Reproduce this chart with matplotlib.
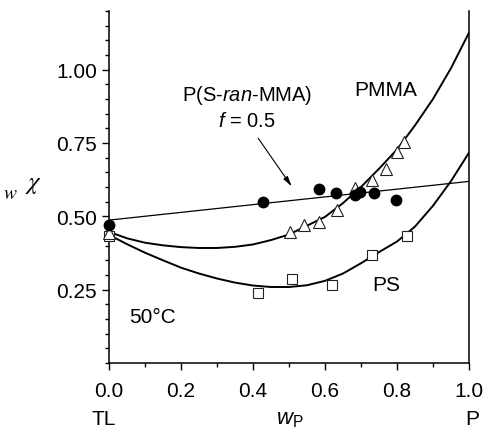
# chi parameter vs. weight fraction of polymer, 50 C
import numpy as np
import matplotlib
matplotlib.use('Agg')
import matplotlib.pyplot as plt
from matplotlib.ticker import MultipleLocator, FixedLocator, FormatStrFormatter

plt.rcParams['font.family'] = ['Liberation Sans', 'DejaVu Sans']
plt.rcParams['mathtext.fontset'] = 'custom'
plt.rcParams['mathtext.rm'] = 'Liberation Sans'
plt.rcParams['mathtext.it'] = 'Liberation Sans:italic'

# copolymer P(S-ran-MMA), filled circles
cop_w = [0.0, 0.429, 0.583, 0.631, 0.684, 0.698, 0.736, 0.798]
cop_chi = [0.470, 0.548, 0.593, 0.580, 0.574, 0.584, 0.581, 0.557]
# straight line through copolymer data
cop_line_w = [0.0, 1.0]
cop_line_chi = [0.487, 0.619]

# PMMA, open triangles
pmma_w = [0.0, 0.503, 0.543, 0.584, 0.634, 0.683, 0.731, 0.769, 0.799, 0.820]
pmma_chi = [0.444, 0.448, 0.470, 0.482, 0.523, 0.595, 0.623, 0.663, 0.718, 0.753]

# PS, open squares
ps_w = [0.0, 0.413, 0.508, 0.619, 0.730, 0.828]
ps_chi = [0.433, 0.239, 0.286, 0.267, 0.367, 0.434]

# fitted curves
curve_w = [0.0, 0.05, 0.1, 0.15, 0.2, 0.25, 0.3, 0.35, 0.4, 0.45, 0.5,
           0.55, 0.6, 0.65, 0.7, 0.75, 0.8, 0.85, 0.9, 0.95, 1.0]
pmma_fit = [0.447, 0.425, 0.410, 0.401, 0.395, 0.392, 0.392, 0.396, 0.404, 0.419, 0.438,
            0.468, 0.498, 0.545, 0.600, 0.662, 0.728, 0.810, 0.900, 1.005, 1.126]
ps_fit = [0.437, 0.405, 0.376, 0.350, 0.325, 0.305, 0.288, 0.274, 0.264, 0.259, 0.259,
          0.265, 0.280, 0.305, 0.340, 0.378, 0.414, 0.465, 0.536, 0.620, 0.717]

fig = plt.figure(figsize=(4.85, 4.31), dpi=100)
ax = fig.add_axes([0.2247, 0.1555, 0.7423, 0.8167])

ax.plot(curve_w, pmma_fit, color='black', lw=1.4, zorder=2)
ax.plot(curve_w, ps_fit, color='black', lw=1.4, zorder=2)
ax.plot(cop_line_w, cop_line_chi, color='black', lw=0.9, zorder=2)

ax.plot(ps_w, ps_chi, 's', ms=6.5, mfc='white', mec='#222222', mew=0.8, clip_on=False, zorder=3)
ax.plot(pmma_w, pmma_chi, '^', ms=8.5, mfc='white', mec='#222222', mew=0.8, clip_on=False, zorder=4)
ax.plot(cop_w, cop_chi, 'o', ms=7.5, mfc='black', mec='black', clip_on=False, zorder=5)

ax.set_xlim(0, 1.0)
ax.set_ylim(0, 1.2)
ax.xaxis.set_major_locator(MultipleLocator(0.2))
ax.xaxis.set_minor_locator(MultipleLocator(0.1))
ax.xaxis.set_major_formatter(FormatStrFormatter('%.1f'))
ax.yaxis.set_major_locator(FixedLocator([0.25, 0.5, 0.75, 1.0]))
ax.yaxis.set_minor_locator(MultipleLocator(0.05))
ax.yaxis.set_major_formatter(FormatStrFormatter('%.2f'))

ax.spines['top'].set_visible(False)
for s in ['left', 'bottom', 'right']:
    ax.spines[s].set_linewidth(1.1)
ax.tick_params(which='both', direction='out', width=1.0, top=False, right=False, labelsize=15)
ax.tick_params(which='major', length=5)
ax.tick_params(which='minor', length=3)
ax.tick_params(axis='x', pad=8)
ax.tick_params(axis='y', pad=3.5)

# annotations
ax.text(0.383, 0.914, 'P(S-$ran$-MMA)', fontsize=14.5, ha='center', va='center')
ax.text(0.383, 0.825, '$f$ = 0.5', fontsize=14.5, ha='center', va='center')
ax.annotate('', xy=(0.512, 0.594), xytext=(0.41, 0.774),
            arrowprops=dict(arrowstyle='-|>,head_width=0.15,head_length=0.6', lw=0.8, color='black'))
ax.text(0.769, 0.933, 'PMMA', fontsize=15, ha='center', va='center')
ax.text(0.770, 0.266, 'PS', fontsize=15, ha='center', va='center')
ax.text(0.121, 0.160, '50°C', fontsize=15, ha='center', va='center')

# bottom row labels
ax.text(-0.015, -0.159, 'TL', fontsize=15, ha='center', va='center', transform=ax.transAxes)
ax.text(0.503, -0.159, r'$w_{\mathrm{P}}$', fontsize=16, ha='center', va='center', transform=ax.transAxes)
ax.text(1.01, -0.159, 'P', fontsize=15, ha='center', va='center', transform=ax.transAxes)

# y label: w-chi
fig.text(10 / 485, 1 - 194 / 431, 'w', family='STIXGeneral', style='italic', fontsize=14,
         ha='center', va='center')
fig.text(34 / 485, 1 - 184 / 431, r'$\chi$', math_fontfamily='stix', fontsize=18,
         ha='center', va='center')

fig.savefig('out.png', dpi=100)
